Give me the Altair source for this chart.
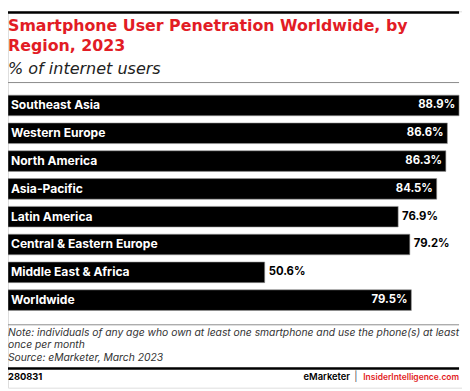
import altair as alt
import pandas as pd

regions = ["Southeast Asia", "Western Europe", "North America", "Asia-Pacific",
           "Latin America", "Central & Eastern Europe", "Middle East & Africa", "Worldwide"]
values = [88.9, 86.6, 86.3, 84.5, 76.9, 79.2, 50.6, 79.5]
label_inside = [True, True, True, True, False, False, False, True]

title_lines = ["Smartphone User Penetration Worldwide, by", "Region, 2023"]
subtitle = "% of internet users"
note_lines = ["Note: individuals of any age who own at least one smartphone and use the phone(s) at least",
              "once per month",
              "Source: eMarketer, March 2023"]
footer_id = "280831"
footer_brand = "eMarketer"
footer_site = "InsiderIntelligence.com"

RED = "#e21c25"
FONT = "Inter"
W = 462
H = 383

df = pd.DataFrame({
    "region": regions,
    "value": values,
    "label": [f"{v:.1f}%" for v in values],
    "inside": label_inside,
})

yscale = alt.Scale(domain=regions, range=[81.65, 308.05], paddingInner=0.258, paddingOuter=0.129)
xscale = alt.Scale(domain=[0, max(values)], range=[0, 459], nice=False, zero=True)

base = alt.Chart(df).encode(y=alt.Y("region:N", scale=yscale, axis=None, sort=regions))

bars = base.mark_bar(color="black", stroke="#9a9a9a", strokeWidth=0.6).encode(
    x=alt.X("value:Q", scale=xscale, axis=None)
)

cat_labels = base.mark_text(align="left", baseline="middle", color="white", font=FONT,
                            fontWeight="bold", fontSize=12.3, dx=3).encode(
    x=alt.value(0), text="region:N"
)

val_in = base.transform_filter("datum.inside").mark_text(
    align="right", baseline="middle", color="white", font=FONT, fontWeight="bold",
    fontSize=11.5, dx=-4).encode(x=alt.X("value:Q", scale=xscale, axis=None), text="label:N")

val_out = base.transform_filter("!datum.inside").mark_text(
    align="left", baseline="middle", color="black", font=FONT, fontWeight="bold",
    fontSize=11.5, dx=4).encode(x=alt.X("value:Q", scale=xscale, axis=None), text="label:N")


def txt(s, x, y, font=FONT, **kw):
    return alt.Chart(pd.DataFrame({"t": [s]})).mark_text(baseline="alphabetic", font=font, **kw).encode(
        x=alt.value(x), y=alt.value(y), text="t:N")


def rule(y, color, width):
    return alt.Chart(pd.DataFrame({"a": [0]})).mark_rule(color=color, strokeWidth=width).encode(
        x=alt.value(0), x2=alt.value(459), y=alt.value(y))


layers = [
    rule(1.25, "black", 2.5),
    txt(title_lines[0], 0, 20.3, font="DejaVu Sans", align="left", fontSize=16.1, fontWeight="bold", color=RED),
    txt(title_lines[1], 0, 40.3, font="DejaVu Sans", align="left", fontSize=16.1, fontWeight="bold", color=RED),
    txt(subtitle, 0, 64, font="DejaVu Sans", align="left", fontSize=16.3, fontStyle="italic", color="#222222"),
    rule(72.5, "#8a8a8a", 1),
    bars, cat_labels, val_in, val_out,
    rule(319, "#8a8a8a", 1),
]
for i, s in enumerate(note_lines):
    layers.append(txt(s, 0, 330 + i * 13, align="left", fontSize=10.5, fontStyle="italic", color="#333333"))
layers += [
    rule(363.5, "black", 2.5),
    txt(footer_id, 0, 375.5, align="left", fontSize=9.5, fontWeight="bold", color="black"),
    txt(footer_site, 459, 375.5, align="right", fontSize=8.6, fontWeight=600, color=RED),
    txt("|", 354, 375.5, align="center", fontSize=10, color="#555555"),
    txt(footer_brand, 348, 375.5, align="right", fontSize=9.5, fontWeight=600, color="black"),
]

chart = alt.layer(*layers).properties(
    width=W, height=H,
    autosize=alt.AutoSizeParams(type="none"),
    padding={"left": 0, "top": 0, "right": 0, "bottom": 0},
).configure_view(strokeWidth=0).configure(background="white")

chart.save("out.html", embed_options={"renderer": "svg", "actions": False})
